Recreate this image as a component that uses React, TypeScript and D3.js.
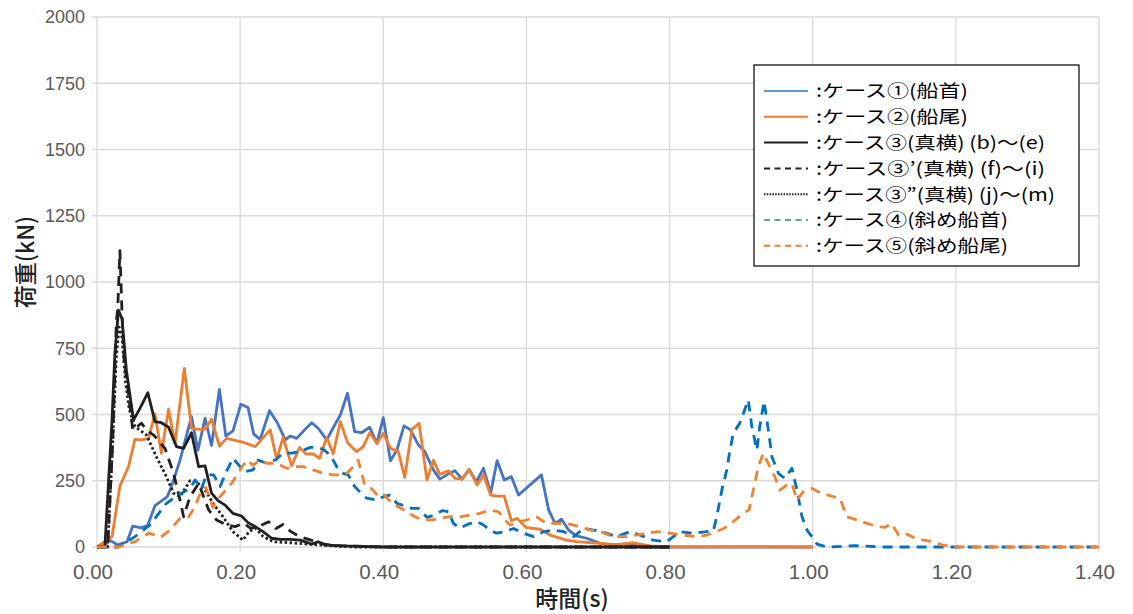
import React from "react";
import * as d3 from "d3";

type P = [number, number];

const xTicks = [0, 0.2, 0.4, 0.6, 0.8, 1.0, 1.2, 1.4];
const xTickLabels = ["0.00", "0.20", "0.40", "0.60", "0.80", "1.00", "1.20", "1.40"];
const yTicks = [0, 250, 500, 750, 1000, 1250, 1500, 1750, 2000];

const case1: P[] = [[0,0],[0.01,5],[0.018,25],[0.029,8],[0.042,20],[0.05,79],[0.062,72],[0.071,83],[0.081,156],[0.098,189],[0.104,228],[0.116,328],[0.132,492],[0.141,365],[0.151,486],[0.16,383],[0.171,595],[0.18,419],[0.19,438],[0.201,539],[0.211,526],[0.219,426],[0.228,406],[0.241,514],[0.252,469],[0.263,404],[0.27,419],[0.279,410],[0.29,442],[0.3,469],[0.309,448],[0.321,404],[0.33,450],[0.34,498],[0.35,580],[0.36,435],[0.37,432],[0.381,452],[0.391,391],[0.4,488],[0.41,325],[0.419,366],[0.429,457],[0.438,442],[0.449,385],[0.458,360],[0.47,291],[0.479,256],[0.491,276],[0.5,288],[0.51,256],[0.52,293],[0.53,246],[0.54,297],[0.55,203],[0.559,326],[0.569,253],[0.579,265],[0.589,196],[0.621,272],[0.631,140],[0.64,89],[0.649,105],[0.659,64],[0.67,42],[0.684,33],[0.703,14],[0.72,8],[0.74,12],[0.76,4],[0.78,0],[1.0,0]];

const case2: P[] = [[0,0],[0.002,4],[0.021,39],[0.032,230],[0.044,303],[0.053,406],[0.062,404],[0.072,410],[0.081,502],[0.09,354],[0.1,520],[0.109,391],[0.122,674],[0.132,448],[0.142,444],[0.151,444],[0.16,482],[0.171,381],[0.181,410],[0.202,397],[0.221,379],[0.242,442],[0.251,331],[0.26,414],[0.272,306],[0.283,376],[0.292,351],[0.302,351],[0.311,335],[0.321,414],[0.33,351],[0.34,473],[0.35,394],[0.358,372],[0.363,360],[0.372,379],[0.381,431],[0.391,391],[0.4,429],[0.41,372],[0.421,360],[0.43,263],[0.44,444],[0.45,467],[0.461,253],[0.47,328],[0.479,274],[0.491,288],[0.5,259],[0.51,256],[0.52,293],[0.531,234],[0.54,272],[0.55,196],[0.559,192],[0.569,192],[0.579,99],[0.587,108],[0.599,74],[0.619,67],[0.633,45],[0.656,26],[0.67,20],[0.703,14],[0.726,8],[0.749,16],[0.773,4],[0.796,1],[1.0,0]];

const case3: P[] = [[0,0],[0.011,0],[0.021,480],[0.025,731],[0.03,894],[0.035,860],[0.041,668],[0.051,479],[0.06,523],[0.071,582],[0.081,473],[0.09,469],[0.1,452],[0.111,379],[0.121,372],[0.132,431],[0.142,303],[0.151,306],[0.16,203],[0.169,175],[0.179,158],[0.19,127],[0.202,117],[0.211,92],[0.221,77],[0.232,58],[0.244,33],[0.256,29],[0.27,29],[0.284,26],[0.3,11],[0.309,20],[0.319,8],[0.34,4],[0.37,2],[0.4,0],[0.8,0]];

const case3b: P[] = [[0,0],[0.015,0],[0.022,400],[0.027,850],[0.029,900],[0.032,1118],[0.035,880],[0.038,700],[0.043,600],[0.05,441],[0.062,467],[0.07,440],[0.08,420],[0.095,372],[0.107,278],[0.116,177],[0.121,114],[0.13,190],[0.142,240],[0.156,140],[0.167,102],[0.181,83],[0.193,77],[0.205,90],[0.215,70],[0.228,80],[0.24,95],[0.25,70],[0.26,85],[0.27,60],[0.282,40],[0.3,25],[0.315,12],[0.33,6],[0.36,3],[0.4,0],[0.8,0]];

const case3c: P[] = [[0,0],[0.015,0],[0.022,400],[0.027,720],[0.031,830],[0.035,790],[0.04,620],[0.045,520],[0.053,454],[0.069,423],[0.083,341],[0.097,265],[0.107,203],[0.116,190],[0.13,250],[0.14,243],[0.151,215],[0.162,165],[0.176,114],[0.19,58],[0.204,26],[0.213,60],[0.222,70],[0.232,40],[0.246,20],[0.27,16],[0.3,10],[0.33,4],[0.36,0],[0.8,0]];

const case4: P[] = [[0,0],[0.03,0],[0.053,39],[0.074,83],[0.097,165],[0.109,188],[0.118,203],[0.13,221],[0.137,253],[0.146,221],[0.153,272],[0.163,272],[0.172,228],[0.18,280],[0.19,335],[0.2,303],[0.207,284],[0.218,291],[0.225,328],[0.237,316],[0.25,330],[0.26,354],[0.272,354],[0.284,360],[0.298,376],[0.307,376],[0.316,369],[0.326,347],[0.335,303],[0.344,278],[0.351,272],[0.36,228],[0.367,209],[0.377,184],[0.391,177],[0.4,190],[0.409,196],[0.419,165],[0.43,155],[0.44,146],[0.449,146],[0.461,112],[0.472,121],[0.482,137],[0.491,133],[0.498,89],[0.507,71],[0.519,87],[0.531,95],[0.54,83],[0.549,64],[0.558,52],[0.57,58],[0.582,70],[0.596,52],[0.61,39],[0.624,58],[0.638,64],[0.652,58],[0.666,39],[0.68,70],[0.694,64],[0.712,52],[0.726,39],[0.745,58],[0.759,45],[0.777,26],[0.796,20],[0.815,58],[0.833,52],[0.852,58],[0.861,60],[0.866,114],[0.873,215],[0.88,291],[0.884,360],[0.889,429],[0.898,467],[0.91,555],[0.915,454],[0.922,366],[0.926,454],[0.932,550],[0.938,442],[0.943,341],[0.952,278],[0.961,259],[0.971,297],[0.978,215],[0.985,114],[0.992,64],[0.999,39],[1.006,11],[1.02,0],[1.06,5],[1.1,0],[1.4,0]];

const case5: P[] = [[0,0],[0.03,0],[0.053,20],[0.072,52],[0.09,39],[0.102,64],[0.116,108],[0.128,114],[0.137,152],[0.146,215],[0.152,225],[0.162,150],[0.172,190],[0.188,240],[0.197,278],[0.209,328],[0.218,309],[0.228,328],[0.237,316],[0.251,316],[0.265,297],[0.277,303],[0.288,303],[0.302,291],[0.316,278],[0.33,272],[0.34,272],[0.349,278],[0.358,303],[0.365,328],[0.374,234],[0.381,228],[0.393,192],[0.4,200],[0.412,165],[0.421,152],[0.433,133],[0.444,114],[0.456,102],[0.468,102],[0.479,108],[0.493,115],[0.507,114],[0.521,121],[0.535,127],[0.549,140],[0.561,133],[0.57,102],[0.577,83],[0.6,102],[0.614,114],[0.628,89],[0.64,89],[0.656,89],[0.675,77],[0.689,64],[0.703,58],[0.721,39],[0.74,39],[0.754,45],[0.768,52],[0.782,58],[0.801,52],[0.819,45],[0.838,39],[0.852,45],[0.861,54],[0.876,70],[0.889,96],[0.903,127],[0.911,140],[0.917,215],[0.924,303],[0.931,354],[0.94,303],[0.947,265],[0.954,215],[0.964,234],[0.971,240],[0.978,177],[0.987,209],[0.999,221],[1.012,203],[1.029,190],[1.038,184],[1.048,114],[1.062,102],[1.076,89],[1.09,77],[1.101,74],[1.11,89],[1.12,45],[1.129,52],[1.143,33],[1.155,26],[1.169,20],[1.18,8],[1.192,4],[1.2,0],[1.4,0]];

const legendLabels = [
  ":ケース①(船首)",
  ":ケース②(船尾)",
  ":ケース③(真横) (b)～(e)",
  ":ケース③’(真横) (f)～(i)",
  ":ケース③”(真横) (j)～(m)",
  ":ケース④(斜め船首)",
  ":ケース⑤(斜め船尾)",
];

const seriesStyles = [
  { data: case1, color: "#4472C4", legendColor: "#5B9BD5", dash: "", legendDash: "", textW: 152 },
  { data: case2, color: "#ED7D31", legendColor: "#ED7D31", dash: "", legendDash: "", textW: 152 },
  { data: case3, color: "#231F20", legendColor: "#231F20", dash: "", legendDash: "", textW: 229 },
  { data: case3b, color: "#231F20", legendColor: "#231F20", dash: "10 7", legendDash: "6 4.5", textW: 229 },
  { data: case3c, color: "#231F20", legendColor: "#231F20", dash: "2.5 2.5", legendDash: "1.5 1.3", textW: 239 },
  { data: case4, color: "#0070C0", legendColor: "#5B9BD5", dash: "10 7", legendDash: "6 4.5", textW: 192 },
  { data: case5, color: "#F08232", legendColor: "#ED7D31", dash: "10 7", legendDash: "6 4.5", textW: 192 },
];

const W = 1133, H = 614;
const x = d3.scaleLinear().domain([0, 1.4]).range([97, 1099]);
const y = d3.scaleLinear().domain([0, 2000]).range([547, 17]);
const line = d3.line<P>().x(d => x(d[0])).y(d => y(d[1]));

const jp = "'Noto Sans CJK JP', 'Noto Sans', sans-serif";

export default function App() {
  const lgX = 754, lgY = 65, lgW = 325, lgH = 201;
  return (
    <div style={{ position: "fixed", left: 0, top: 0 }}>
      <svg width={W} height={H} style={{ display: "block", background: "#fff" }}>
        {yTicks.map(t => (
          <line key={"gy" + t} x1={92} x2={1099} y1={y(t)} y2={y(t)} stroke="#D9D9D9" strokeWidth={1.3} />
        ))}
        {xTicks.map(t => (
          <line key={"gx" + t} x1={x(t)} x2={x(t)} y1={y(2000)} y2={y(0) + 5} stroke="#D9D9D9" strokeWidth={1.3} />
        ))}
        {yTicks.map(t => (
          <text key={"ty" + t} x={85} y={y(t)} dy="0.35em" textAnchor="end" fill="#595959"
            style={{ fontFamily: "'Liberation Sans', Arial, sans-serif", fontSize: 18 }}>{t}</text>
        ))}
        {xTicks.map((t, i) => (
          <text key={"tx" + t} x={x(t) - 4} y={579} textAnchor="middle" fill="#595959"
            textLength={40} lengthAdjust="spacingAndGlyphs"
            style={{ fontFamily: "'Liberation Sans', Arial, sans-serif", fontSize: 21 }}>{xTickLabels[i]}</text>
        ))}
        {seriesStyles.map((s, i) => (
          <path key={"s" + i} d={line(s.data) || ""} fill="none" stroke={s.color} strokeWidth={2.8}
            strokeDasharray={s.dash || undefined} strokeLinejoin="round" />
        ))}
        <text transform="translate(34,262) rotate(-90)" textAnchor="middle" fill="#222"
          style={{ fontFamily: jp, fontSize: 23, fontWeight: 500 }}>荷重(kN)</text>
        <text x={572} y={607} textAnchor="middle" fill="#222"
          style={{ fontFamily: jp, fontSize: 23, fontWeight: 500 }}>時間(s)</text>
        <rect x={lgX} y={lgY} width={lgW} height={lgH} fill="#fff" stroke="#000" strokeWidth={1.2} />
        {seriesStyles.map((s, i) => {
          const cy = 91 + i * 25.8;
          return (
            <g key={"lg" + i}>
              <line x1={764} x2={808} y1={cy} y2={cy} stroke={s.legendColor} strokeWidth={2}
                strokeDasharray={s.legendDash || undefined} />
              <text x={816} y={cy} dy="0.36em" fill="#000"
                textLength={s.textW} lengthAdjust="spacingAndGlyphs"
                style={{ fontFamily: jp, fontSize: 17.6 }}>{legendLabels[i]}</text>
            </g>
          );
        })}
      </svg>
    </div>
  );
}
